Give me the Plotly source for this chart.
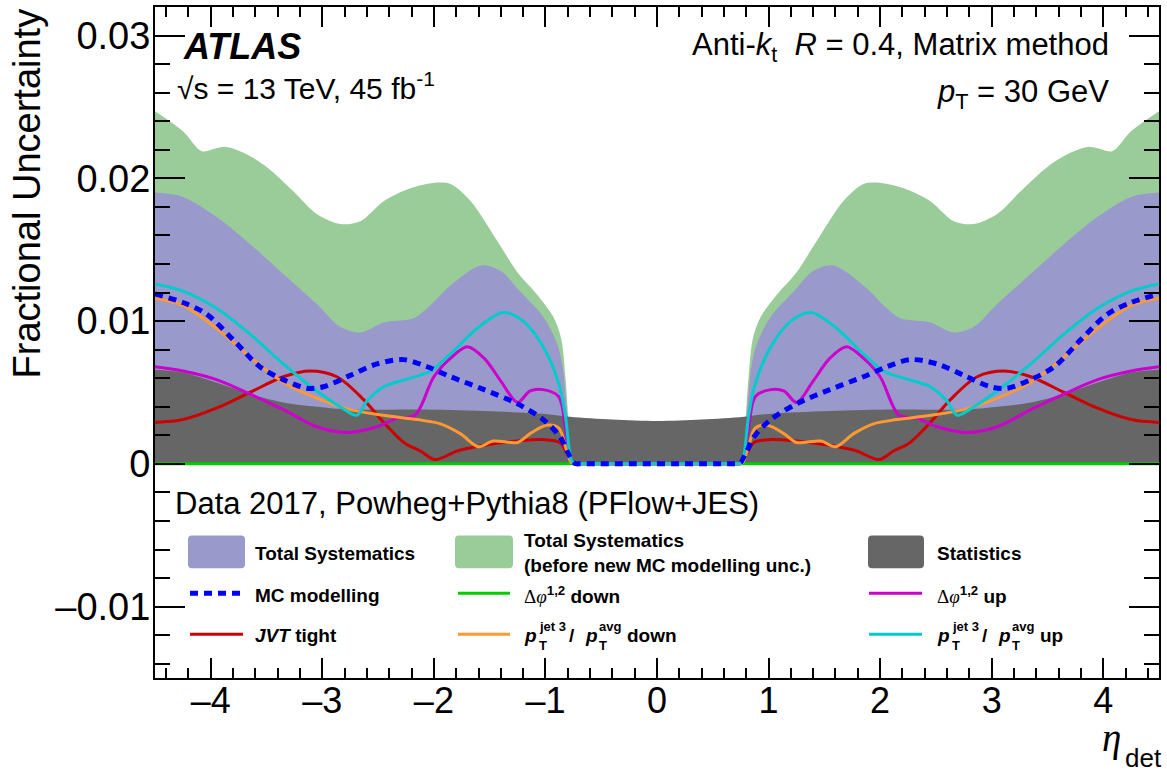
import plotly.graph_objects as go

# ---------------- data ----------------
eta_tot_before = [-4.5, -4.25, -4.08, -3.95, -3.86, -3.71, -3.5, -3.26, -3.05, -2.84, -2.66, -2.45,
                  -2.21, -1.97, -1.85, -1.67, -1.43, -1.25, -1.08, -0.93, -0.86, -0.82, -0.78, -0.76, -0.74,
                  0.74, 0.76, 0.78, 0.82, 0.86, 0.93, 1.08, 1.25, 1.43, 1.67, 1.85, 1.97, 2.21,
                  2.45, 2.66, 2.84, 3.05, 3.26, 3.5, 3.71, 3.86, 3.95, 4.08, 4.25, 4.5]
tot_before = [0.0247, 0.0233, 0.0219, 0.0221, 0.0222, 0.0218, 0.0208, 0.0191, 0.0175, 0.0168, 0.0170, 0.0184,
              0.0193, 0.0197, 0.0196, 0.0184, 0.0156, 0.0134, 0.0119, 0.0103, 0.0088, 0.0060, 0.0015, 0.0, 0.0,
              0.0, 0.0, 0.0015, 0.0060, 0.0088, 0.0103, 0.0119, 0.0134, 0.0156, 0.0184, 0.0196, 0.0197, 0.0193,
              0.0184, 0.0170, 0.0168, 0.0175, 0.0191, 0.0208, 0.0218, 0.0222, 0.0221, 0.0219, 0.0233, 0.0247]

eta_tot = [-4.5, -4.25, -3.95, -3.65, -3.35, -3.05, -2.84, -2.66, -2.45, -2.18, -2.06, -1.85, -1.58, -1.40,
           -1.23, -1.02, -0.90, -0.85, -0.81, -0.78, -0.76, -0.74,
           0.74, 0.76, 0.78, 0.81, 0.85, 0.90, 1.02, 1.23, 1.40, 1.58, 1.85, 2.06, 2.18, 2.45, 2.66, 2.84,
           3.05, 3.35, 3.65, 3.95, 4.25, 4.5]
tot = [0.0190, 0.0187, 0.0173, 0.0154, 0.0133, 0.0112, 0.0096, 0.0092, 0.0099, 0.0102, 0.0109, 0.0125, 0.0139, 0.0135,
       0.0121, 0.0103, 0.0085, 0.0070, 0.0040, 0.0010, 0.0, 0.0,
       0.0, 0.0, 0.0010, 0.0040, 0.0070, 0.0085, 0.0103, 0.0121, 0.0135, 0.0139, 0.0125, 0.0109, 0.0102, 0.0099, 0.0092, 0.0096,
       0.0112, 0.0133, 0.0154, 0.0173, 0.0187, 0.0190]

eta_stat = [-4.5, -4.25, -3.95, -3.65, -3.35, -3.05, -2.75, -2.15, -1.55, -1.0, -0.78, -0.4, 0.0,
            0.4, 0.78, 1.0, 1.55, 2.15, 2.75, 3.05, 3.35, 3.65, 3.95, 4.25, 4.5]
stat = [0.0066, 0.0064, 0.0057, 0.0049, 0.0043, 0.0040, 0.0038, 0.0038, 0.0037, 0.0035, 0.0033, 0.0031, 0.0030,
        0.0031, 0.0033, 0.0035, 0.0037, 0.0038, 0.0038, 0.0040, 0.0043, 0.0049, 0.0057, 0.0064, 0.0066]

eta_mc = [-4.5, -4.25, -4.04, -3.80, -3.56, -3.35, -3.14, -2.99, -2.75, -2.51, -2.27, -2.06, -1.85, -1.55,
          -1.25, -1.02, -0.87, -0.80, -0.75, -0.72, -0.70,
          0.70, 0.72, 0.75, 0.80, 0.87, 1.02, 1.25, 1.55, 1.85, 2.06, 2.27, 2.51, 2.75, 2.99, 3.14,
          3.35, 3.56, 3.80, 4.04, 4.25, 4.5]
mc = [0.0119, 0.0113, 0.0105, 0.0087, 0.0068, 0.0059, 0.0053, 0.0054, 0.0062, 0.0070, 0.0073, 0.0068, 0.0061, 0.0052,
      0.0042, 0.0031, 0.0019, 0.0008, 0.0001, 0.0, 0.0,
      0.0, 0.0, 0.0001, 0.0008, 0.0019, 0.0031, 0.0042, 0.0052, 0.0061, 0.0068, 0.0073, 0.0070, 0.0062, 0.0054, 0.0053,
      0.0059, 0.0068, 0.0087, 0.0105, 0.0113, 0.0119]

eta_pt_up = [-4.5, -4.25, -3.95, -3.65, -3.35, -3.05, -2.84, -2.69, -2.60, -2.45, -2.21, -2.03, -1.85, -1.61,
             -1.38, -1.20, -1.02, -0.88, -0.82, -0.77, -0.74, -0.72,
             0.72, 0.74, 0.77, 0.82, 0.88, 1.02, 1.20, 1.38, 1.61, 1.85, 2.03, 2.21, 2.45, 2.60, 2.69,
             2.84, 3.05, 3.35, 3.65, 3.95, 4.25, 4.5]
pt_up = [0.0126, 0.0121, 0.0109, 0.0091, 0.0070, 0.0051, 0.0040, 0.0034, 0.0044, 0.0054, 0.0060, 0.0065, 0.0077, 0.0095,
         0.0106, 0.0100, 0.0082, 0.0056, 0.0033, 0.0003, 0.0, 0.0,
         0.0, 0.0, 0.0003, 0.0033, 0.0056, 0.0082, 0.0100, 0.0106, 0.0095, 0.0077, 0.0065, 0.0060, 0.0054, 0.0044, 0.0034,
         0.0040, 0.0051, 0.0070, 0.0091, 0.0109, 0.0121, 0.0126]

eta_dphi_up = [-4.5, -4.25, -3.95, -3.65, -3.35, -3.05, -2.78, -2.51, -2.33, -2.17, -2.00, -1.85, -1.70, -1.55,
               -1.40, -1.25, -1.14, -1.02, -0.88, -0.82, -0.77, -0.74, -0.72,
               0.72, 0.74, 0.77, 0.82, 0.88, 1.02, 1.14, 1.25, 1.40, 1.55, 1.70, 1.85, 2.00, 2.17, 2.33,
               2.51, 2.78, 3.05, 3.35, 3.65, 3.95, 4.25, 4.5]
dphi_up = [0.0068, 0.0065, 0.0059, 0.0049, 0.0038, 0.0026, 0.0022, 0.0026, 0.0032, 0.0034, 0.0061, 0.0074, 0.0082, 0.0074,
           0.0058, 0.0043, 0.0051, 0.0052, 0.0047, 0.0024, 0.0002, 0.0, 0.0,
           0.0, 0.0, 0.0002, 0.0024, 0.0047, 0.0052, 0.0051, 0.0043, 0.0058, 0.0074, 0.0082, 0.0074, 0.0061, 0.0034, 0.0032,
           0.0026, 0.0022, 0.0026, 0.0038, 0.0049, 0.0059, 0.0065, 0.0068]

eta_jvt = [-4.5, -4.25, -3.95, -3.65, -3.35, -3.11, -2.87, -2.63, -2.45, -2.27, -2.12, -1.99, -1.79, -1.55,
           -1.25, -1.02, -0.87, -0.81, -0.76, -0.74, -0.72,
           0.72, 0.74, 0.76, 0.81, 0.87, 1.02, 1.25, 1.55, 1.79, 1.99, 2.12, 2.27, 2.45, 2.63, 2.87,
           3.11, 3.35, 3.65, 3.95, 4.25, 4.5]
jvt = [0.0029, 0.0031, 0.0039, 0.0050, 0.0061, 0.0065, 0.0061, 0.0045, 0.0029, 0.0015, 0.0009, 0.0003, 0.0009, 0.0013,
       0.0016, 0.0017, 0.0015, 0.0008, 0.0001, 0.0, 0.0,
       0.0, 0.0, 0.0001, 0.0008, 0.0015, 0.0017, 0.0016, 0.0013, 0.0009, 0.0003, 0.0009, 0.0015, 0.0029, 0.0045, 0.0061,
       0.0065, 0.0061, 0.0050, 0.0039, 0.0031, 0.0029]

eta_pt_down = [-4.5, -4.25, -3.95, -3.65, -3.35, -3.05, -2.75, -2.45, -2.15, -1.94, -1.76, -1.60, -1.47, -1.25,
               -1.14, -0.99, -0.88, -0.82, -0.77, -0.74, -0.72,
               0.72, 0.74, 0.77, 0.82, 0.88, 0.99, 1.14, 1.25, 1.47, 1.60, 1.76, 1.94, 2.15, 2.45, 2.75,
               3.05, 3.35, 3.65, 3.95, 4.25, 4.5]
pt_down = [0.0116, 0.0111, 0.0095, 0.0075, 0.0057, 0.0046, 0.0038, 0.0034, 0.0031, 0.0028, 0.0021, 0.0012, 0.0016, 0.0015,
           0.0021, 0.0027, 0.0025, 0.0012, 0.0001, 0.0, 0.0,
           0.0, 0.0, 0.0001, 0.0012, 0.0025, 0.0027, 0.0021, 0.0015, 0.0016, 0.0012, 0.0021, 0.0028, 0.0031, 0.0034, 0.0038,
           0.0046, 0.0057, 0.0075, 0.0095, 0.0111, 0.0116]

eta_dphi_down = [-4.5, 4.5]
dphi_down = [0.0, 0.0]

x_ticks = [-4, -3, -2, -1, 0, 1, 2, 3, 4]
x_ticklabels = ["–4", "–3", "–2", "–1", "0", "1", "2", "3", "4"]
y_ticks = [-0.01, 0.0, 0.01, 0.02, 0.03]
y_ticklabels = ["–0.01", "0", "0.01", "0.02", "0.03"]

# ---------------- style ----------------
C_GREEN_FILL = "#99cc99"
C_PURPLE_FILL = "#9999cc"
C_GREY_FILL = "#666666"
C_MC = "#0000ff"
C_JVT = "#cc0000"
C_DPHI_DOWN = "#00cc00"
C_DPHI_UP = "#cc00cc"
C_PT_DOWN = "#ff9933"
C_PT_UP = "#00cccc"
SANS = "Liberation Sans, Arial, Helvetica, sans-serif"
SERIF = "Liberation Serif, Times New Roman, serif"

W, H = 1167, 774
L, R, T, B = 155, 1159, 5, 678


def fx(px):
    return (px - L) / (R - L)


def fy(py):
    return (B - py) / (B - T)


fig = go.Figure()

for xs, ys, col in [(eta_tot_before, tot_before, C_GREEN_FILL),
                    (eta_tot, tot, C_PURPLE_FILL),
                    (eta_stat, stat, C_GREY_FILL)]:
    fig.add_trace(go.Scatter(x=xs, y=ys, mode="lines", fill="tozeroy", fillcolor=col,
                             line=dict(width=0, color=col, shape="spline", smoothing=0.9),
                             hoverinfo="skip"))

for xs, ys, col, w, dash in [(eta_dphi_down, dphi_down, C_DPHI_DOWN, 3, "solid"),
                             (eta_jvt, jvt, C_JVT, 3, "solid"),
                             (eta_dphi_up, dphi_up, C_DPHI_UP, 3, "solid"),
                             (eta_pt_down, pt_down, C_PT_DOWN, 3, "solid"),
                             (eta_pt_up, pt_up, C_PT_UP, 3, "solid"),
                             (eta_mc, mc, C_MC, 5, "8px,6px")]:
    fig.add_trace(go.Scatter(x=xs, y=ys, mode="lines",
                             line=dict(width=w, color=col, dash=dash, shape="spline", smoothing=0.9),
                             hoverinfo="skip"))

annotations = []


def ann(text, x, y, size, xanchor="left", yanchor="middle", family=SANS, angle=0):
    annotations.append(dict(text=text, x=fx(x), y=fy(y), xref="paper", yref="paper",
                            xanchor=xanchor, yanchor=yanchor, showarrow=False, textangle=angle,
                            font=dict(family=family, size=size, color="black")))


SANS_SPAN = '<span style="font-family:Liberation Sans, Arial, sans-serif">'

# top labels
ann("<b><i>ATLAS</i></b>", 181, 45, 36)
ann("√s = 13 TeV, 45 fb<sup>-1</sup>", 175, 84, 30)
ann("Anti-<i>k</i><sub>t</sub>  <i>R</i> = 0.4, Matrix method", 1111, 45, 31, xanchor="right")
ann("<i>p</i><sub>T</sub> = 30 GeV", 1111, 92, 31, xanchor="right")
ann("Data 2017, Powheg+Pythia8 (PFlow+JES)", 173, 503, 31)

# axis titles
ann("Fractional Uncertainty", 27, 192, 38, xanchor="center", yanchor="middle", angle=-90)
ann("<i>η</i>", 1111, 738, 39, xanchor="center", family=SERIF)
ann("det", 1123, 758, 26)

# legend text
LS = 19
ann("<b>Total Systematics</b>", 253, 553, LS)
ann("<b>MC modelling</b>", 253, 595, LS)
ann("<b><i>JVT</i> tight</b>", 253, 635, LS)
ann("<b>Total Systematics</b>", 522, 540, LS)
ann("<b>(before new MC modelling unc.)</b>", 522, 565, LS)
ann("Δ<i>φ</i>" + SANS_SPAN + "<b><sup>1,2</sup> down</b></span>", 522, 595, LS, family=SERIF)
ann("<b>Statistics</b>", 935, 553, LS)
ann("Δ<i>φ</i>" + SANS_SPAN + "<b><sup>1,2</sup> up</b></span>", 935, 595, LS, family=SERIF)


def pt_ratio(x0, y0, word):
    ann("<b><i>p</i></b>", x0, y0, LS)
    ann("<b>jet 3</b>", x0 + 15, y0 - 9, 13)
    ann("<b>T</b>", x0 + 15, y0 + 10, 13)
    ann("<b>/</b>", x0 + 45, y0, LS)
    ann("<b><i>p</i></b>", x0 + 61, y0, LS)
    ann("<b>avg</b>", x0 + 75, y0 - 9, 13)
    ann("<b>T</b>", x0 + 75, y0 + 10, 13)
    ann("<b>%s</b>" % word, x0 + 103, y0, LS)


pt_ratio(522, 635, "down")
pt_ratio(935, 635, "up")

shapes = []


def rrect(x0, x1, y0, y1, r, col):
    pts = (f"M {fx(x0 + r)},{fy(y0)} L {fx(x1 - r)},{fy(y0)} Q {fx(x1)},{fy(y0)} {fx(x1)},{fy(y0 + r)} "
           f"L {fx(x1)},{fy(y1 - r)} Q {fx(x1)},{fy(y1)} {fx(x1 - r)},{fy(y1)} "
           f"L {fx(x0 + r)},{fy(y1)} Q {fx(x0)},{fy(y1)} {fx(x0)},{fy(y1 - r)} "
           f"L {fx(x0)},{fy(y0 + r)} Q {fx(x0)},{fy(y0)} {fx(x0 + r)},{fy(y0)} Z")
    shapes.append(dict(type="path", path=pts, xref="paper", yref="paper",
                       fillcolor=col, line=dict(width=0), layer="above"))


def lline(x0, x1, y, col, w=3, dash="solid"):
    shapes.append(dict(type="line", x0=fx(x0), x1=fx(x1), y0=fy(y), y1=fy(y), xref="paper", yref="paper",
                       line=dict(color=col, width=w, dash=dash), layer="above"))


rrect(188, 245, 535, 568, 4, C_PURPLE_FILL)
rrect(455, 513, 535, 568, 4, C_GREEN_FILL)
rrect(868, 924, 535, 568, 4, C_GREY_FILL)
lline(190, 243, 593, C_MC, 5, "8px,6px")
lline(190, 243, 634, C_JVT)
lline(458, 510, 593, C_DPHI_DOWN)
lline(458, 510, 634, C_PT_DOWN)
lline(869, 922, 593, C_DPHI_UP)
lline(869, 922, 634, C_PT_UP)

fig.update_layout(
    width=W, height=H,
    margin=dict(l=L, r=W - R, t=T, b=H - B, pad=0),
    plot_bgcolor="white", paper_bgcolor="white",
    showlegend=False,
    font=dict(family=SANS, color="black"),
    annotations=annotations,
    shapes=shapes,
    xaxis=dict(range=[-4.5, 4.5], showgrid=False, zeroline=False, showline=True, linecolor="black",
               linewidth=2, mirror="ticks", ticks="inside", ticklen=20, tickwidth=2, tickcolor="black",
               tickmode="array", tickvals=x_ticks, ticktext=x_ticklabels, ticklabelstandoff=-10,
               tickfont=dict(size=36, family=SANS),
               minor=dict(ticks="inside", ticklen=10, tickwidth=2, tickcolor="black", dtick=0.2, tick0=0,
                          showgrid=False)),
    yaxis=dict(range=[-0.015, 0.032], showgrid=False, zeroline=False, showline=True, linecolor="black",
               linewidth=2, mirror="ticks", ticks="inside", ticklen=30, tickwidth=2, tickcolor="black",
               tickmode="array", tickvals=y_ticks, ticktext=y_ticklabels, ticklabelstandoff=-5,
               tickfont=dict(size=38, family=SANS),
               minor=dict(ticks="inside", ticklen=15, tickwidth=2, tickcolor="black", dtick=0.002, tick0=0,
                          showgrid=False)),
)

fig.write_html("out.html", config={"displayModeBar": False},
               post_script="document.body.style.margin='0';document.body.style.overflow='hidden';")
